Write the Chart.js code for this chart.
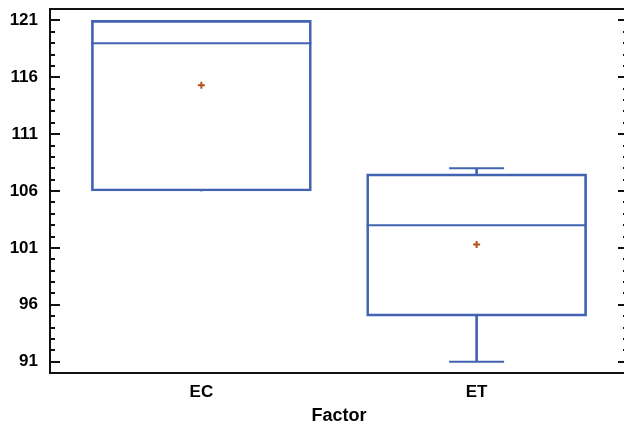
<!DOCTYPE html>
<html>
<head>
<meta charset="utf-8">
<script src="https://cdn.jsdelivr.net/npm/chart.js@4/dist/chart.umd.min.js"></script>
<style>
  html, body { margin: 0; padding: 0; background: #fff; overflow: hidden; }
  canvas { display: block; }
</style>
</head>
<body>
<canvas id="boxChart" width="632" height="428"></canvas>
<script>
const categories = ['EC', 'ET'];
const minValues = [106, 91];
const q1Values = [106, 95];
const medianValues = [119, 103];
const q3Values = [121, 107.5];
const maxValues = [121, 108];
const meanValues = [115.3, 101.3];
const yTickLabels = [91, 96, 101, 106, 111, 116, 121];

const BLUE = '#4262b2';
const MEAN = '#b2521f';
const FONT = "'Liberation Sans', Arial, sans-serif";

const pos = categories.map((c, i) => i + 1);

// caps only where a whisker actually sticks out of the box
const capPoints = [];
pos.forEach((x, i) => {
    if (maxValues[i] > q3Values[i]) capPoints.push({ x, y: maxValues[i] });
    if (minValues[i] < q1Values[i]) capPoints.push({ x, y: minValues[i] });
});

// frame + inward tick marks (major 10px, minor 5px) on both sides
const framePlugin = {
    id: 'frame',
    afterDraw(chart) {
        const { ctx, chartArea: a, scales: { y } } = chart;
        ctx.save();
        ctx.strokeStyle = '#111';
        ctx.lineWidth = 2;
        ctx.beginPath();
        ctx.moveTo(a.left, a.top); ctx.lineTo(a.right, a.top);
        ctx.moveTo(a.left, a.bottom); ctx.lineTo(a.right, a.bottom);
        ctx.moveTo(a.left, a.top - 1); ctx.lineTo(a.left, a.bottom + 1);
        ctx.moveTo(a.right, a.top - 1); ctx.lineTo(a.right, a.bottom + 1);
        y.ticks.forEach(t => {
            const py = Math.round(y.getPixelForValue(t.value));
            const len = yTickLabels.includes(t.value) ? 10 : 5;
            ctx.moveTo(a.left, py); ctx.lineTo(a.left + len, py);
            ctx.moveTo(a.right, py); ctx.lineTo(a.right - len, py);
        });
        ctx.stroke();
        ctx.restore();
    }
};

new Chart(document.getElementById('boxChart'), {
    type: 'bar',
    data: {
        datasets: [
            {
                label: 'box',
                data: pos.map((x, i) => ({ x, y: [q1Values[i], q3Values[i]] })),
                backgroundColor: 'rgba(0,0,0,0)',
                borderColor: BLUE,
                borderWidth: 2,
                borderSkipped: false,
                barThickness: 220,
                grouped: false
            },
            {
                label: 'upper whisker',
                data: pos.map((x, i) => ({ x, y: [q3Values[i], maxValues[i]] })),
                backgroundColor: BLUE,
                borderWidth: 0,
                barThickness: 2,
                grouped: false
            },
            {
                label: 'lower whisker',
                data: pos.map((x, i) => ({ x, y: [minValues[i], q1Values[i]] })),
                backgroundColor: BLUE,
                borderWidth: 0,
                barThickness: 2,
                grouped: false
            },
            {
                type: 'line',
                label: 'caps',
                data: capPoints,
                showLine: false,
                pointStyle: 'line',
                pointRadius: 27.5,
                borderColor: BLUE,
                borderWidth: 2
            },
            {
                type: 'line',
                label: 'median',
                data: pos.map((x, i) => ({ x, y: medianValues[i] })),
                showLine: false,
                pointStyle: 'line',
                pointRadius: 110,
                borderColor: BLUE,
                borderWidth: 2
            },
            {
                type: 'line',
                label: 'mean',
                data: pos.map((x, i) => ({ x, y: meanValues[i] })),
                showLine: false,
                pointStyle: 'cross',
                pointRadius: 3.5,
                borderColor: MEAN,
                borderWidth: 2
            }
        ]
    },
    options: {
        responsive: false,
        animation: false,
        events: [],
        layout: { autoPadding: false, padding: { top: 9, right: 4, left: 0, bottom: 0 } },
        plugins: { legend: { display: false }, tooltip: { enabled: false } },
        scales: {
            x: {
                type: 'linear',
                offset: false,
                min: 0.45,
                max: 2.55,
                afterBuildTicks: s => { s.ticks = pos.map(v => ({ value: v })); },
                afterFit: s => { s.height = 55; s.paddingLeft = 0; s.paddingRight = 0; },
                grid: { display: false },
                border: { display: false },
                ticks: {
                    callback: v => categories[v - 1] || '',
                    color: '#000',
                    padding: 1,
                    maxRotation: 0,
                    autoSkip: false,
                    font: { family: FONT, size: 17, weight: 'bold' }
                },
                title: {
                    display: true,
                    text: 'Factor',
                    color: '#000',
                    padding: { top: 0, bottom: 1 },
                    font: { family: FONT, size: 18, weight: 'bold' }
                }
            },
            y: {
                min: 90,
                max: 122,
                afterFit: s => { s.width = 50; s.paddingTop = 0; s.paddingBottom = 0; },
                grid: { display: false },
                border: { display: false },
                ticks: {
                    stepSize: 1,
                    autoSkip: false,
                    padding: 4,
                    color: '#000',
                    callback: v => yTickLabels.includes(v) ? String(v) : '',
                    font: { family: FONT, size: 17, weight: 'bold' }
                }
            }
        }
    },
    plugins: [framePlugin]
});
</script>
</body>
</html>
